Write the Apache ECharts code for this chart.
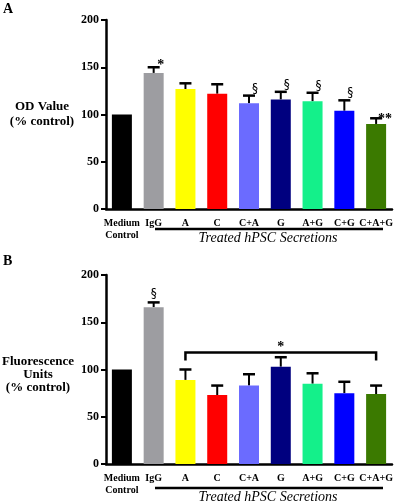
<!DOCTYPE html>
<html><head><meta charset="utf-8">
<script src="https://cdn.jsdelivr.net/npm/echarts@6/dist/echarts.min.js"></script>
<style>html,body{margin:0;padding:0;background:#fff}#c{width:400px;height:501px}</style>
</head><body><div id="c"></div>
<script>
const categories = ['Medium\nControl','IgG','A','C','C+A','G','A+G','C+G','C+A+G'];
const colors = ['#000000','#9d9da1','#ffff00','#ff0000','#6b6bff','#00007f','#14f08a','#0000ff','#3b7a00'];
const yTicks = [0,50,100,150,200];
const odValues = [100,144,127,122,112,116,114,104,90];
const odErrors = [0,6,6,10,8,8,9,11,6];
const odMarks = ['','*','','','§','§','§','§','**'];
const flValues = [100,166,89,73,83,103,85,75,74];
const flErrors = [0,5,11,10,12,10,11,12,9];
const flMarks = ['','§','','','','','','',''];
const flBracket = {from:2, to:8, value:118, label:'*'};

const serif = '"Liberation Serif","Times New Roman",serif';
const chart = echarts.init(document.getElementById('c'), null, {renderer:'canvas'});

function grid(top){ return {left:106, top:top, width:286, height:189}; }
function xAx(i){ return {type:'category', gridIndex:i, data:categories,
  axisLine:{lineStyle:{color:'#000',width:2.5}},
  axisTick:{alignWithLabel:true, length:5, lineStyle:{color:'#000',width:2}},
  axisLabel:{color:'#000', fontFamily:serif, fontWeight:'bold', fontSize:10, margin:8, lineHeight:12, interval:0}}; }
function yAx(i){ return {type:'value', gridIndex:i, min:yTicks[0], max:yTicks[yTicks.length-1], interval:50,
  axisLine:{show:true, lineStyle:{color:'#000',width:2.5}},
  axisTick:{show:true, length:5, lineStyle:{color:'#000',width:2}},
  splitLine:{show:false},
  axisLabel:{color:'#000', fontFamily:serif, fontWeight:'bold', fontSize:12, margin:7}}; }

function barSeries(i, vals){
  return {type:'bar', xAxisIndex:i, yAxisIndex:i, barWidth:20, silent:true,
    data: vals.map((v,k)=>({value:v, itemStyle:{color:colors[k]}}))};
}
function errSeries(i, vals, errs, marks, dx, dy){
  return {type:'custom', xAxisIndex:i, yAxisIndex:i, silent:true,
    data: vals.map((v,k)=>[k, v, errs[k], k]),
    renderItem:function(params, api){
      const k = api.value(3);
      const v = api.value(1), e = api.value(2);
      const p0 = api.coord([k, v]);
      const p1 = api.coord([k, v+e]);
      const children = [];
      if (e > 0) {
        children.push({type:'line', shape:{x1:p0[0],y1:p0[1],x2:p1[0],y2:p1[1]}, style:{stroke:'#000',lineWidth:2}});
        children.push({type:'line', shape:{x1:p1[0]-6,y1:p1[1],x2:p1[0]+6,y2:p1[1]}, style:{stroke:'#000',lineWidth:2.5}});
      }
      const m = marks[k];
      if (m) {
        const isS = m === '§';
        children.push({type:'text', style:{text:m, x:p1[0]+dx[k], y:p1[1]+dy[k], fill:'#000',
          font:(isS?'normal 12px "DejaVu Sans",sans-serif':'bold 14px '+serif), align:'center', verticalAlign:'middle'}});
      }
      return {type:'group', children:children};
    }};
}
function bracketSeries(i, b){
  return {type:'custom', xAxisIndex:i, yAxisIndex:i, silent:true,
    data:[[b.from, b.to, b.value]],
    renderItem:function(params, api){
      const a = api.coord([api.value(0), api.value(2)]);
      const c = api.coord([api.value(1), api.value(2)]);
      return {type:'group', children:[
        {type:'polyline', shape:{points:[[a[0],a[1]+8],[a[0],a[1]],[c[0],a[1]],[c[0],a[1]+8]]}, style:{stroke:'#000',lineWidth:2.5,fill:null}},
        {type:'text', style:{text:b.label, x:(a[0]+c[0])/2, y:a[1]-5, fill:'#000', font:'bold 14px '+serif, align:'center', verticalAlign:'middle'}}
      ]};
    }};
}

const dxA = [0,7,0,0,6,6,6,6,9], dyA = [0,-2,0,0,-7,-7,-7,-7,1];
const dxB = [0,0,0,0,0,0,0,0,0], dyB = [0,-9,0,0,0,0,0,0,0];

const treated = (y)=>[
  {type:'line', shape:{x1:155,y1:y,x2:383,y2:y}, style:{stroke:'#000',lineWidth:2.5}},
  {type:'text', style:{text:'Treated hPSC Secretions', x:268, y:y+9, fill:'#000', font:'italic 14px '+serif, align:'center', verticalAlign:'middle'}}
];

chart.setOption({
  animation:false,
  grid:[grid(20), grid(275)],
  xAxis:[xAx(0), xAx(1)],
  yAxis:[yAx(0), yAx(1)],
  series:[
    barSeries(0, odValues), errSeries(0, odValues, odErrors, odMarks, dxA, dyA),
    barSeries(1, flValues), errSeries(1, flValues, flErrors, flMarks, dxB, dyB),
    bracketSeries(1, flBracket)
  ],
  graphic:[
    {type:'text', left:3, top:2, style:{text:'A', fill:'#000', font:'bold 14px '+serif}},
    {type:'text', left:3, top:254, style:{text:'B', fill:'#000', font:'bold 14px '+serif}},
    {type:'text', x:42, y:114, style:{text:'OD Value\n(% control)', fill:'#000', font:'bold 13px '+serif, align:'center', verticalAlign:'middle', lineHeight:15}},
    {type:'text', x:38, y:375, style:{text:'Fluorescence\nUnits\n(% control)', fill:'#000', font:'bold 13px '+serif, align:'center', verticalAlign:'middle', lineHeight:13}},
    ...treated(229), ...treated(488)
  ]
});
</script></body></html>
